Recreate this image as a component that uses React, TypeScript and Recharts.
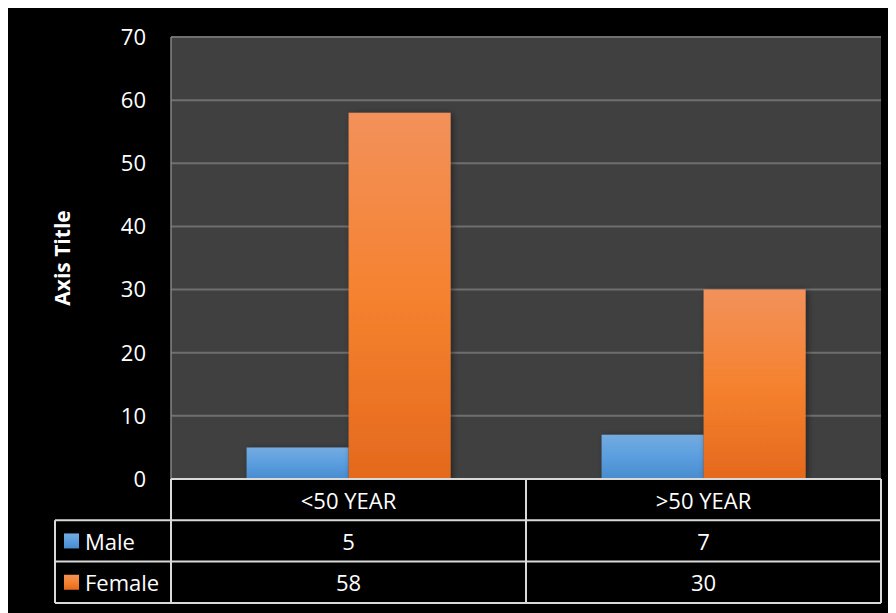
import React from 'react';
import { BarChart, Bar, XAxis, YAxis, CartesianGrid, Label } from 'recharts';

const categories = ['<50 YEAR', '>50 YEAR'];
const maleValues = [5, 7];
const femaleValues = [58, 30];
const seriesNames = ['Male', 'Female'];
const yTicks = [0, 10, 20, 30, 40, 50, 60, 70];
const axisTitle = 'Axis Title';

const data = categories.map((c, i) => ({ category: c, Male: maleValues[i], Female: femaleValues[i] }));

const WIDTH = 888;
const HEIGHT = 605;
const YAXIS_W = 163;
const MARGIN = { top: 29, right: 15, left: 0, bottom: 0 };
const XAXIS_H = 134;
const PLOT_W = WIDTH - YAXIS_W - MARGIN.left - MARGIN.right;
const BAND = PLOT_W / categories.length;
const ROW_H = 41.3;
const LEG_W = 116;
const FONT = '"Open Sans", "Noto Sans", sans-serif';
const FS = 22;
const LINE = '#d9d9d9';
const swatchFills = ['url(#gMale)', 'url(#gFemale)'];

const TableTick = (props: any) => {
  const { x, y, payload, index } = props;
  const left = x - BAND / 2;
  const right = x + BAND / 2;
  const values = [maleValues[index], femaleValues[index]];
  const txt = { fill: '#ffffff', fontSize: FS, fontFamily: FONT, dominantBaseline: 'central' as const };
  return (
    <g>
      <line x1={left} x2={right} y1={y} y2={y} stroke={LINE} strokeWidth={2} />
      <line x1={left} x2={left} y1={y} y2={y + 3 * ROW_H} stroke={LINE} strokeWidth={2} />
      <line x1={right} x2={right} y1={y} y2={y + 3 * ROW_H} stroke={LINE} strokeWidth={2} />
      {[1, 2, 3].map((r) => (
        <line key={r} x1={left} x2={right} y1={y + r * ROW_H} y2={y + r * ROW_H} stroke={LINE} strokeWidth={2} />
      ))}
      <text x={x} y={y + ROW_H / 2} textAnchor="middle" {...txt}>{payload.value}</text>
      {values.map((v, r) => (
        <text key={r} x={x} y={y + (r + 1.5) * ROW_H} textAnchor="middle" {...txt}>{v}</text>
      ))}
      {index === 0 && (
        <g>
          <line x1={left - LEG_W} x2={left - LEG_W} y1={y + ROW_H} y2={y + 3 * ROW_H} stroke={LINE} strokeWidth={2} />
          {[1, 2, 3].map((r) => (
            <line key={r} x1={left - LEG_W} x2={left} y1={y + r * ROW_H} y2={y + r * ROW_H} stroke={LINE} strokeWidth={2} />
          ))}
          {seriesNames.map((n, r) => (
            <g key={n}>
              <rect x={left - 107} y={y + (r + 1.5) * ROW_H - 7.5} width={15} height={15} fill={swatchFills[r]} />
              <text x={left - 86} y={y + (r + 1.5) * ROW_H} textAnchor="start" {...txt}>{n}</text>
            </g>
          ))}
        </g>
      )}
    </g>
  );
};

const AxisTitle = (props: any) => {
  const vb = props.viewBox || { x: 0, y: 0, width: 0, height: 0 };
  const cx = vb.x + 54;
  const cy = vb.y + vb.height / 2;
  return (
    <text x={cx} y={cy} transform={`rotate(-90, ${cx}, ${cy})`} textAnchor="middle" dominantBaseline="central"
      fill="#ffffff" fontSize={21} fontWeight="bold" fontFamily={FONT}>{axisTitle}</text>
  );
};

export default function App() {
  return (
    <div style={{ width: WIDTH, height: HEIGHT, background: '#000000' }}>
      <BarChart width={WIDTH} height={HEIGHT} data={data} margin={MARGIN} barCategoryGap="21.3%" barGap={0}>
        <defs>
          <linearGradient id="gMale" x1="0" y1="0" x2="0" y2="1">
            <stop offset="0%" stopColor="#74abe0" />
            <stop offset="50%" stopColor="#5a9edf" />
            <stop offset="100%" stopColor="#488cce" />
          </linearGradient>
          <linearGradient id="gFemale" x1="0" y1="0" x2="0" y2="1">
            <stop offset="0%" stopColor="#f2915b" />
            <stop offset="50%" stopColor="#f5822f" />
            <stop offset="100%" stopColor="#e4691d" />
          </linearGradient>
          <filter id="shadow" x="-20%" y="-20%" width="140%" height="140%">
            <feDropShadow dx="2" dy="1" stdDeviation="3" floodColor="#000" floodOpacity="0.45" />
          </filter>
        </defs>
        <CartesianGrid vertical={false} fill="#404040" stroke="#6f6f6f" strokeWidth={2} />
        <XAxis dataKey="category" height={XAXIS_H} axisLine={false} tickLine={false} tickSize={0} tickMargin={0}
          tick={<TableTick />} interval={0} />
        <YAxis width={YAXIS_W} domain={[0, 70]} ticks={yTicks} interval={0} axisLine={{ stroke: '#858585', strokeWidth: 1.5 }}
          tickLine={false} tickSize={0} tickMargin={25}
          tick={{ fill: '#ffffff', fontSize: FS, fontFamily: FONT }}>
          <Label content={<AxisTitle />} />
        </YAxis>
        <Bar dataKey="Male" fill="url(#gMale)" isAnimationActive={false} style={{ filter: 'url(#shadow)' }} />
        <Bar dataKey="Female" fill="url(#gFemale)" isAnimationActive={false} style={{ filter: 'url(#shadow)' }} />
      </BarChart>
    </div>
  );
}
